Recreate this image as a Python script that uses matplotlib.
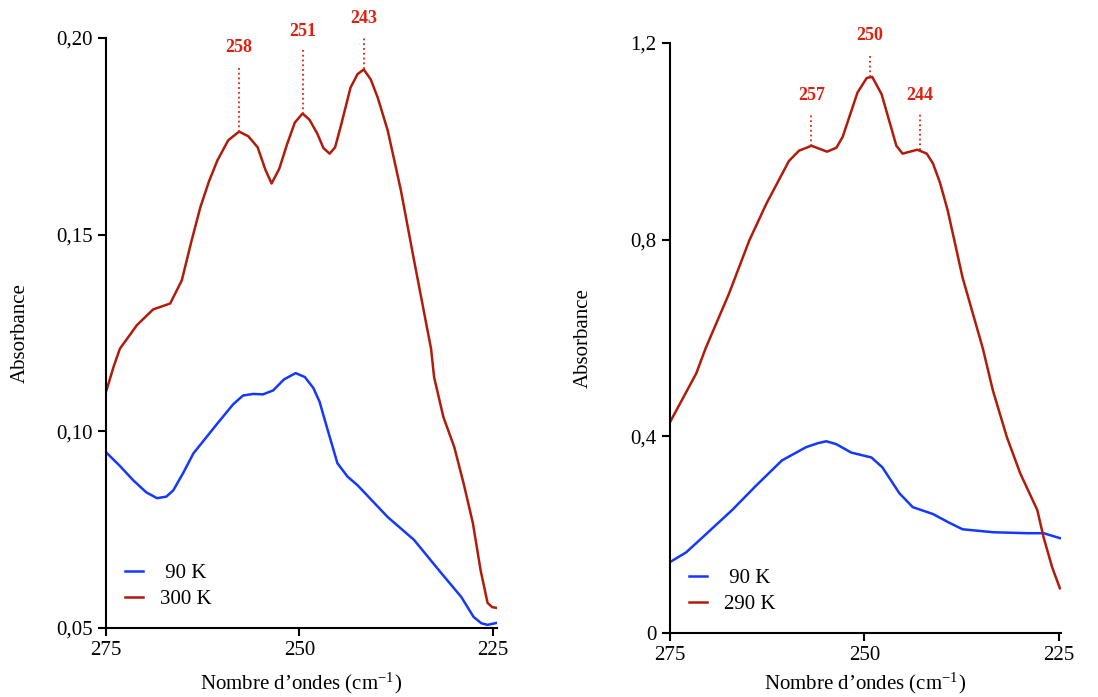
import matplotlib.pyplot as plt

plt.rcParams['font.family'] = ['Liberation Serif', 'DejaVu Serif']
plt.rcParams['mathtext.fontset'] = 'stix'

# Left panel: 90 K and 300 K spectra
left_x_300 = [275, 274.0, 273.2, 271.0, 268.9, 266.7, 265.2, 264.0, 262.8, 261.7, 260.6, 259.2,
              257.8, 256.6, 255.4, 254.4, 253.6, 252.6, 251.6, 250.6, 249.6, 248.7, 247.7,
              246.9, 246.1, 245.4, 244.7, 243.4, 242.5, 241.7, 240.8, 239.9, 238.6, 236.9,
              235.2, 233.0, 232.6, 231.4, 230.0, 228.8, 227.6, 226.6, 225.7, 225.1, 224.5]
left_y_300 = [0.110, 0.1165, 0.121, 0.127, 0.131, 0.1325, 0.1384, 0.148, 0.157, 0.1635, 0.1689, 0.1740,
              0.1762, 0.1750, 0.1722, 0.1665, 0.163, 0.1668, 0.173, 0.1785, 0.1808, 0.1792, 0.1757,
              0.172, 0.1706, 0.1722, 0.1773, 0.1874, 0.1908, 0.192, 0.1895, 0.1849, 0.1765, 0.1613,
              0.1435, 0.121, 0.1137, 0.1036, 0.096, 0.0868, 0.0767, 0.0647, 0.0564, 0.0553, 0.0551]

left_x_90 = [275, 273.2, 271.5, 269.8, 268.4, 267.2, 266.3, 265.0, 263.7, 260.6, 258.6, 257.3,
             256.0, 254.7, 253.4, 252.0, 250.5, 249.3, 248.2, 247.4, 246.6, 245.1, 243.8,
             242.5, 238.6, 235.2, 231.7, 229.1, 227.5, 226.5, 225.7, 224.5]
left_y_90 = [0.0947, 0.0912, 0.0876, 0.0845, 0.083, 0.0834, 0.085, 0.0895, 0.0944, 0.102, 0.1068, 0.1091,
             0.1095, 0.1094, 0.1104, 0.1132, 0.1148, 0.1138, 0.111, 0.1075, 0.102, 0.0919, 0.0885,
             0.0863, 0.0782, 0.0724, 0.064, 0.0579, 0.0528, 0.0512, 0.0508, 0.0513]

# Right panel: 90 K and 290 K spectra
right_x_290 = [275, 271.6, 270.4, 267.4, 264.8, 262.6, 259.7, 258.4, 256.8, 254.8, 253.6,
               252.8, 250.9, 249.7, 249.0, 247.8, 245.9, 245.1, 243.2, 242.0, 241.2,
               240.3, 239.3, 237.4, 234.8, 233.5, 231.7, 230.0, 227.8, 227.0, 225.9, 224.9]
right_y_290 = [0.428, 0.528, 0.579, 0.690, 0.798, 0.873, 0.960, 0.981, 0.991, 0.979, 0.987,
               1.009, 1.099, 1.129, 1.131, 1.096, 0.991, 0.975, 0.983, 0.975, 0.955,
               0.916, 0.859, 0.723, 0.579, 0.493, 0.398, 0.325, 0.250, 0.195, 0.134, 0.091]

right_x_90 = [275, 272.9, 270.9, 267.0, 263.9, 260.6, 257.5, 256.0, 254.9, 253.6, 251.7, 249.1, 247.7,
              245.5, 243.8, 241.2, 239.2, 237.4, 233.5, 229.1, 227.0, 224.9]
right_y_90 = [0.144, 0.164, 0.193, 0.250, 0.300, 0.351, 0.378, 0.386, 0.390, 0.384, 0.367, 0.357, 0.337,
              0.284, 0.256, 0.242, 0.225, 0.211, 0.205, 0.203, 0.203, 0.193]

# Peak labels
left_peaks = ['258', '251', '243']
left_peak_x = [257.8, 249.6, 241.7]
left_peak_y = [0.1762, 0.1808, 0.192]
left_label_y = [0.1955, 0.1995, 0.2027]

right_peaks = ['257', '250', '244']
right_peak_x = [256.8, 249.3, 242.9]
right_peak_y = [0.991, 1.130, 0.983]
right_label_y = [1.075, 1.197, 1.075]

blue = '#1438ff'
red = '#b01c0c'
lab_red = '#e0200f'

fig = plt.figure(figsize=(10.98, 6.97), dpi=100)
ax1 = fig.add_axes([0.0965, 0.099, 0.356, 0.8465])
ax2 = fig.add_axes([0.610, 0.0918, 0.356, 0.8465])


def style(ax, xlab_y):
    for s in ['top', 'right']:
        ax.spines[s].set_visible(False)
    ax.spines['left'].set_linewidth(1.5)
    ax.spines['bottom'].set_linewidth(1.5)
    ax.tick_params(direction='out', length=6, width=1.5, labelsize=15)
    ax.set_xticks([275, 250, 225])
    ax.set_xlabel('Nombre d\u2019ondes (cm$^{\\mathregular{-1}}$)', fontsize=15, va='center')
    ax.xaxis.set_label_coords(0.5, xlab_y)
    ax.set_ylabel('Absorbance', fontsize=15, va='center')
    ax.yaxis.set_label_coords(-0.22, 0.5)


ax1.plot(left_x_90, left_y_90, color=blue, lw=1.8, label=' 90 K')
ax1.plot(left_x_300, left_y_300, color=red, lw=1.8, label='300 K')
ax1.set_xlim(275, 224.5)
ax1.set_ylim(0.05, 0.20)
ax1.set_yticks([0.05, 0.10, 0.15, 0.20])
ax1.set_yticklabels(['0,05', '0,10', '0,15', '0,20'])
style(ax1, -0.094)
for lab, px, py, ly in zip(left_peaks, left_peak_x, left_peak_y, left_label_y):
    ax1.plot([px, px], [py, ly - 0.0025], ls=':', color=lab_red, lw=1.3, clip_on=False)
    ax1.text(px, ly, lab, color=lab_red, fontsize=13, fontweight='bold', ha='center', va='bottom')

ax2.plot(right_x_90, right_y_90, color=blue, lw=1.8, label=' 90 K')
ax2.plot(right_x_290, right_y_290, color=red, lw=1.8, label='290 K')
ax2.set_xlim(275, 224.8)
ax2.set_ylim(0, 1.2)
ax2.set_yticks([0, 0.4, 0.8, 1.2])
ax2.set_yticklabels(['0', '0,4', '0,8', '1,2'])
style(ax2, -0.086)
for lab, px, py, ly in zip(right_peaks, right_peak_x, right_peak_y, right_label_y):
    ax2.plot([px, px], [py, ly - 0.02], ls=':', color=lab_red, lw=1.3, clip_on=False)
    ax2.text(px, ly, lab, color=lab_red, fontsize=13, fontweight='bold', ha='center', va='bottom')

for ax in (ax1, ax2):
    ax.legend(loc='lower left', frameon=False, fontsize=15, handlelength=0.9,
              handletextpad=0.8, labelspacing=0.3, bbox_to_anchor=(0.0, 0.0))

fig.savefig('out.png', dpi=100)
